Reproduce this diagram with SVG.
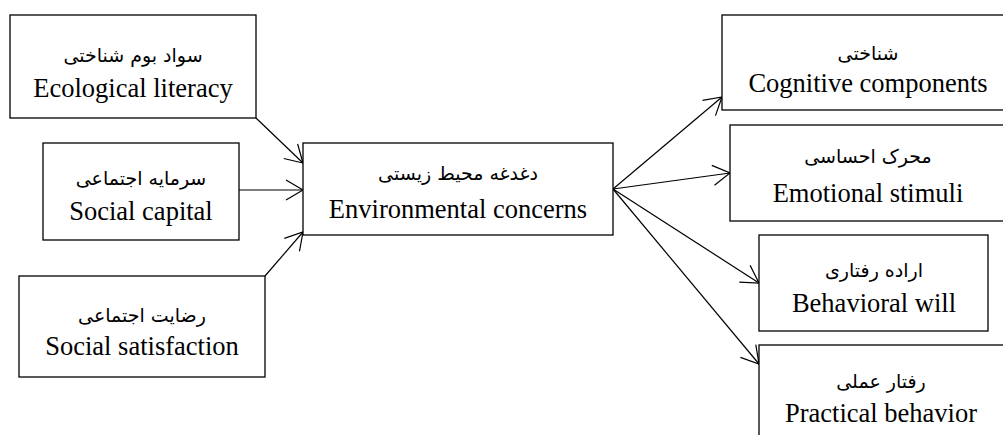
<svg xmlns="http://www.w3.org/2000/svg" width="1003" height="435" viewBox="0 0 1003 435">
<style>
.box{fill:#fff;stroke:#000;stroke-width:1.3}
.en{font-family:"Liberation Serif","Times New Roman",serif;font-size:26.5px;fill:#000;text-anchor:middle}
.fa{font-family:"DejaVu Sans","Noto Sans",sans-serif;font-size:19px;fill:#000;text-anchor:middle}
.conn{stroke:#000;stroke-width:1.2;fill:none;marker-end:url(#arr)}
</style>
<defs>
<marker id="arr" markerUnits="userSpaceOnUse" viewBox="-2 -2 24 24" markerWidth="24" markerHeight="24" refX="17" refY="10" orient="auto" overflow="visible">
<path d="M0,0 L17,10 L0,20" fill="none" stroke="#000" stroke-width="1.2"/>
</marker>
</defs>
<rect width="1003" height="435" fill="#fff"/>
<g id="connectors">
<line class="conn" x1="256" y1="118" x2="303" y2="163"/>
<line class="conn" x1="239" y1="190" x2="303" y2="190"/>
<line class="conn" x1="265" y1="276" x2="303" y2="232"/>
<line class="conn" x1="613" y1="189" x2="722" y2="97"/>
<line class="conn" x1="613" y1="189" x2="730" y2="173"/>
<line class="conn" x1="613" y1="189" x2="759" y2="283"/>
<line class="conn" x1="613" y1="189" x2="759" y2="364"/>
</g>
<g id="ecological">
<rect class="box" x="10" y="15" width="246" height="103"/>
<text class="fa" x="133" y="62" direction="rtl">سواد بوم شناختی</text>
<text class="en" x="133" y="97">Ecological literacy</text>
</g>
<g id="social-capital">
<rect class="box" x="43" y="143" width="196" height="97"/>
<text class="fa" x="141" y="185" direction="rtl">سرمایه اجتماعی</text>
<text class="en" x="141" y="220">Social capital</text>
</g>
<g id="social-satisfaction">
<rect class="box" x="19" y="276" width="246" height="101"/>
<text class="fa" x="142" y="322" direction="rtl">رضایت اجتماعی</text>
<text class="en" x="142" y="355">Social satisfaction</text>
</g>
<g id="environmental">
<rect class="box" x="303" y="143" width="310" height="92"/>
<text class="fa" x="458" y="180" direction="rtl">دغدغه محیط زیستی</text>
<text class="en" x="458" y="218">Environmental concerns</text>
</g>
<g id="cognitive">
<rect class="box" x="722" y="15" width="290" height="95"/>
<text class="fa" x="868" y="60" direction="rtl">شناختی</text>
<text class="en" x="868" y="92">Cognitive components</text>
</g>
<g id="emotional">
<rect class="box" x="730" y="125" width="282" height="96"/>
<text class="fa" x="868" y="163" direction="rtl">محرک احساسی</text>
<text class="en" x="868" y="202">Emotional stimuli</text>
</g>
<g id="behavioral">
<rect class="box" x="759" y="235" width="229" height="96"/>
<text class="fa" x="874" y="277" direction="rtl">اراده رفتاری</text>
<text class="en" x="874" y="312">Behavioral will</text>
</g>
<g id="practical">
<rect class="box" x="759" y="345" width="253" height="100"/>
<text class="fa" x="881" y="388" direction="rtl">رفتار عملی</text>
<text class="en" x="881" y="422">Practical behavior</text>
</g>
</svg>
